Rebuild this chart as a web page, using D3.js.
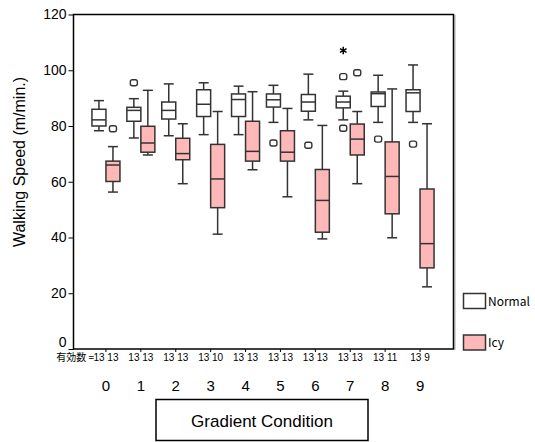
<!DOCTYPE html>
<html><head><meta charset="utf-8">
<script src="https://cdn.jsdelivr.net/npm/d3@7"></script>
<style>body{margin:0;background:#fff}svg{display:block}</style>
</head><body>
<svg id="c" width="535" height="442"></svg>
<script>
const categories = ["0","1","2","3","4","5","6","7","8","9"];
// [whiskerLow, Q1, median, Q3, whiskerHigh]
const normalBox = [
  [78.3,80.0,82.2,86.0,89.1],
  [75.7,81.7,85.6,86.7,89.8],
  [76.5,82.5,85.6,88.6,95.1],
  [76.9,83.4,87.8,93.0,95.5],
  [76.9,83.4,89.5,91.5,94.3],
  [81.3,86.8,89.4,91.5,94.6],
  [82.2,85.3,88.6,91.3,98.6],
  [82.2,86.5,88.6,90.7,92.5],
  [81.3,87.0,91.6,92.2,98.2],
  [81.3,85.2,91.9,93.0,101.9]
];
const icyBox = [
  [56.3,60.1,66.0,67.4,72.6],
  [69.6,70.6,73.9,79.9,92.8],
  [59.3,67.9,70.1,75.6,80.8],
  [41.2,50.7,61.0,73.4,85.2],
  [64.3,67.4,70.9,81.7,92.3],
  [54.6,67.4,70.6,78.3,86.3],
  [39.5,41.9,53.3,64.4,80.2],
  [59.3,69.6,75.3,80.7,85.2],
  [39.9,48.5,61.9,74.3,93.3],
  [22.3,29.1,37.8,57.4,80.8]
];
const normalOutliers = [[],[95.5],[],[],[],[73.9],[73.1],[97.7,79.2],[75.3],[73.5]];
const normalExtremes = [[],[],[],[],[],[],[],[107.1],[],[]];
const icyOutliers = [[79.0],[],[],[],[],[],[],[99.1],[],[]];
const normalN = [13,13,13,13,13,13,13,13,13,13];
const icyN = [13,13,13,10,13,13,13,13,11,9];
const yTicks = [0,20,40,60,80,100,120];
const seriesNames = ["Normal","Icy"];
const seriesFill = ["#ffffff","#ffb8b8"];

const svg = d3.select("#c");
const y = d3.scaleLinear().domain([0,120]).range([349,14.5]);
const x = d3.scaleBand().domain(categories).range([88.5,437.5]).padding(0);
const boxW = 14, capW = 10, off = 7;
const stroke = "#333";

// frame
svg.append("line").attr("x1",455).attr("x2",455).attr("y1",15).attr("y2",350).attr("stroke","#aaa").attr("stroke-width",1);
svg.append("rect").attr("x",73.5).attr("y",14.5).attr("width",380).attr("height",334.5)
  .attr("fill","none").attr("stroke","#000").attr("stroke-width",1.5);

// y axis
const yAxis = d3.axisLeft(y).tickValues(yTicks).tickSize(5).tickPadding(2);
const ga = svg.append("g").attr("transform","translate(73.5,0)").call(yAxis);
ga.select(".domain").remove();
ga.selectAll("text").attr("font-family","Liberation Sans, Arial, sans-serif").attr("font-size",14).attr("fill","#000");
ga.selectAll("text").filter(d=>d===0).attr("dy","-0.2em");
ga.selectAll("line").attr("stroke","#000");

// x axis ticks
const xAxis = d3.axisBottom(x).tickSize(3).tickFormat("");
const gx = svg.append("g").attr("transform","translate(0,349)").call(xAxis);
gx.select(".domain").remove();
gx.selectAll("line").attr("stroke","#000");

function drawBox(stats, cx, fill){
  const [lo,q1,med,q3,hi] = stats;
  const g = svg.append("g").attr("stroke",stroke).attr("stroke-width",1.5);
  g.append("line").attr("x1",cx).attr("x2",cx).attr("y1",y(hi)).attr("y2",y(q3));
  g.append("line").attr("x1",cx).attr("x2",cx).attr("y1",y(q1)).attr("y2",y(lo));
  g.append("line").attr("x1",cx-capW/2).attr("x2",cx+capW/2).attr("y1",y(hi)).attr("y2",y(hi));
  g.append("line").attr("x1",cx-capW/2).attr("x2",cx+capW/2).attr("y1",y(lo)).attr("y2",y(lo));
  g.append("rect").attr("x",cx-boxW/2).attr("y",y(q3)).attr("width",boxW).attr("height",y(q1)-y(q3)).attr("fill",fill);
  g.append("line").attr("x1",cx-boxW/2).attr("x2",cx+boxW/2).attr("y1",y(med)).attr("y2",y(med));
}
function drawOutlier(v, cx){
  svg.append("rect").attr("x",cx-3.5).attr("y",y(v)-3).attr("width",7).attr("height",6).attr("rx",2)
    .attr("fill","#fff").attr("stroke",stroke).attr("stroke-width",1.4);
}
const star = d3.symbol(d3.symbolAsterisk, 40);
function drawStar(v, cx){
  svg.append("path").attr("d",star()).attr("transform",`translate(${cx},${y(v)})`)
    .attr("fill","none").attr("stroke","#000").attr("stroke-width",1.5);
}

categories.forEach((c,i)=>{
  const cx = x(c)+x.bandwidth()/2;
  drawBox(normalBox[i], cx-off, seriesFill[0]);
  drawBox(icyBox[i], cx+off, seriesFill[1]);
  normalOutliers[i].forEach(v=>drawOutlier(v,cx-off));
  icyOutliers[i].forEach(v=>drawOutlier(v,cx+off));
  normalExtremes[i].forEach(v=>drawStar(v,cx-off));
  // counts
  svg.append("text").attr("x",cx).attr("y",361).attr("text-anchor","middle")
    .attr("font-family","Liberation Sans, Arial, sans-serif").attr("font-size",10)
    .text(normalN[i]+" "+icyN[i]);
  svg.append("text").attr("x",cx).attr("y",391).attr("text-anchor","middle")
    .attr("font-family","Liberation Sans, Arial, sans-serif").attr("font-size",15).text(c);
});
{
  const cx0 = x(categories[0])+x.bandwidth()/2;
  svg.append("text").attr("x",cx0-12).attr("y",361).attr("text-anchor","end")
    .attr("font-family","Noto Sans CJK JP, sans-serif").attr("font-size",10).text("有効数 =");
}

// y title
svg.append("text").attr("transform","translate(25,162) rotate(-90)").attr("text-anchor","middle")
  .attr("font-family","Liberation Sans, Arial, sans-serif").attr("font-size",16).text("Walking Speed (m/min.)");

// x title box
svg.append("rect").attr("x",156).attr("y",399.5).attr("width",212).attr("height",41)
  .attr("fill","none").attr("stroke","#000").attr("stroke-width",1.5);
svg.append("text").attr("x",262).attr("y",427).attr("text-anchor","middle")
  .attr("font-family","Liberation Sans, Arial, sans-serif").attr("font-size",17).text("Gradient Condition");

// legend
const legY = [293.5, 335];
seriesNames.forEach((n,i)=>{
  svg.append("rect").attr("x",463.5).attr("y",legY[i]).attr("width",22).attr("height",15)
    .attr("fill",seriesFill[i]).attr("stroke",stroke).attr("stroke-width",1.5);
  svg.append("text").attr("x",488).attr("y",legY[i]+12).attr("font-family","Noto Sans CJK JP, sans-serif")
    .attr("font-size",12).text(n);
});
</script>
</body></html>
